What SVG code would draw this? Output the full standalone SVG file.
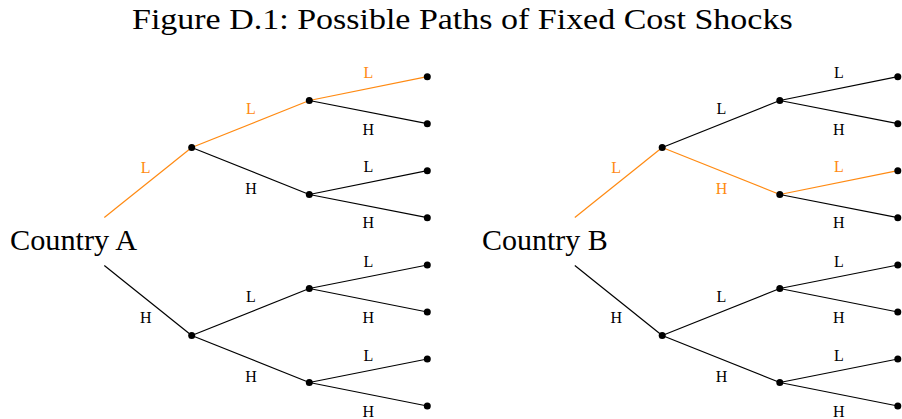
<svg xmlns="http://www.w3.org/2000/svg" width="902" height="419" viewBox="0 0 902 419">
<style>
.t{font-size:29px}
.lb{font-size:16px;text-anchor:middle}
.o{fill:#FF8A12}
.e{stroke:#000;stroke-width:1.2;fill:none}
.eo{stroke:#FF8A12;stroke-width:1.2;fill:none}
.d{fill:#000}
</style>
<rect width="902" height="419" fill="#fff"/>
<text class="t" font-family="Liberation Serif" transform="translate(132 28.5) scale(1.172 1)">Figure D.1: Possible Paths of Fixed Cost Shocks</text>

<g id="treeA">
<g id="connectorsA">
<line class="eo" x1="104.3" y1="217.5" x2="191.7" y2="147.5"/>
<line class="e" x1="104.3" y1="265.5" x2="191.7" y2="335.5"/>
<line class="eo" x1="191.7" y1="147.5" x2="309.3" y2="100.5"/>
<line class="e" x1="191.7" y1="147.5" x2="309.3" y2="194.5"/>
<line class="e" x1="191.7" y1="335.5" x2="309.3" y2="288.5"/>
<line class="e" x1="191.7" y1="335.5" x2="309.3" y2="382.5"/>
<line class="eo" x1="309.3" y1="100.5" x2="427.3" y2="76.7"/>
<line class="e" x1="309.3" y1="100.5" x2="427.3" y2="123.7"/>
<line class="e" x1="309.3" y1="194.5" x2="427.3" y2="170.7"/>
<line class="e" x1="309.3" y1="194.5" x2="427.3" y2="217.7"/>
<line class="e" x1="309.3" y1="288.5" x2="427.3" y2="265"/>
<line class="e" x1="309.3" y1="288.5" x2="427.3" y2="312"/>
<line class="e" x1="309.3" y1="382.5" x2="427.3" y2="359"/>
<line class="e" x1="309.3" y1="382.5" x2="427.3" y2="406"/>
</g>
<g id="rootA"><text class="t" font-family="Liberation Serif" x="10" y="249.5" textLength="127" lengthAdjust="spacingAndGlyphs">Country A</text></g>
<g id="nodesA">
<circle class="d" cx="191.7" cy="147.5" r="3.5"/>
<circle class="d" cx="191.7" cy="335.5" r="3.5"/>
<circle class="d" cx="309.3" cy="100.5" r="3.5"/>
<circle class="d" cx="309.3" cy="194.5" r="3.5"/>
<circle class="d" cx="309.3" cy="288.5" r="3.5"/>
<circle class="d" cx="309.3" cy="382.5" r="3.5"/>
<circle class="d" cx="427.3" cy="76.7" r="3.5"/>
<circle class="d" cx="427.3" cy="123.7" r="3.5"/>
<circle class="d" cx="427.3" cy="170.7" r="3.5"/>
<circle class="d" cx="427.3" cy="217.7" r="3.5"/>
<circle class="d" cx="427.3" cy="265" r="3.5"/>
<circle class="d" cx="427.3" cy="312" r="3.5"/>
<circle class="d" cx="427.3" cy="359" r="3.5"/>
<circle class="d" cx="427.3" cy="406" r="3.5"/>
</g>
<g id="labelsA">
<text class="lb o" font-family="Liberation Serif" x="145.7" y="172.5">L</text>
<text class="lb" font-family="Liberation Serif" x="145.7" y="322.5">H</text>
<text class="lb o" font-family="Liberation Serif" x="251" y="113.5">L</text>
<text class="lb" font-family="Liberation Serif" x="251" y="193.5">H</text>
<text class="lb" font-family="Liberation Serif" x="251" y="301.5">L</text>
<text class="lb" font-family="Liberation Serif" x="251" y="381.5">H</text>
<text class="lb o" font-family="Liberation Serif" x="368.3" y="78">L</text>
<text class="lb" font-family="Liberation Serif" x="368.3" y="134.5">H</text>
<text class="lb" font-family="Liberation Serif" x="368.3" y="172">L</text>
<text class="lb" font-family="Liberation Serif" x="368.3" y="228">H</text>
<text class="lb" font-family="Liberation Serif" x="368.3" y="267">L</text>
<text class="lb" font-family="Liberation Serif" x="368.3" y="323">H</text>
<text class="lb" font-family="Liberation Serif" x="368.3" y="361">L</text>
<text class="lb" font-family="Liberation Serif" x="368.3" y="417">H</text>
</g>
</g>

<g id="treeB" transform="translate(470.5 0)">
<g id="connectorsB">
<line class="eo" x1="104.3" y1="217.5" x2="191.7" y2="147.5"/>
<line class="e" x1="104.3" y1="265.5" x2="191.7" y2="335.5"/>
<line class="e" x1="191.7" y1="147.5" x2="309.3" y2="100.5"/>
<line class="eo" x1="191.7" y1="147.5" x2="309.3" y2="194.5"/>
<line class="e" x1="191.7" y1="335.5" x2="309.3" y2="288.5"/>
<line class="e" x1="191.7" y1="335.5" x2="309.3" y2="382.5"/>
<line class="e" x1="309.3" y1="100.5" x2="427.3" y2="76.7"/>
<line class="e" x1="309.3" y1="100.5" x2="427.3" y2="123.7"/>
<line class="eo" x1="309.3" y1="194.5" x2="427.3" y2="170.7"/>
<line class="e" x1="309.3" y1="194.5" x2="427.3" y2="217.7"/>
<line class="e" x1="309.3" y1="288.5" x2="427.3" y2="265"/>
<line class="e" x1="309.3" y1="288.5" x2="427.3" y2="312"/>
<line class="e" x1="309.3" y1="382.5" x2="427.3" y2="359"/>
<line class="e" x1="309.3" y1="382.5" x2="427.3" y2="406"/>
</g>
<g id="rootB"><text class="t" font-family="Liberation Serif" transform="translate(11.5 249.5) scale(1.035 1)">Country B</text></g>
<g id="nodesB">
<circle class="d" cx="191.7" cy="147.5" r="3.5"/>
<circle class="d" cx="191.7" cy="335.5" r="3.5"/>
<circle class="d" cx="309.3" cy="100.5" r="3.5"/>
<circle class="d" cx="309.3" cy="194.5" r="3.5"/>
<circle class="d" cx="309.3" cy="288.5" r="3.5"/>
<circle class="d" cx="309.3" cy="382.5" r="3.5"/>
<circle class="d" cx="427.3" cy="76.7" r="3.5"/>
<circle class="d" cx="427.3" cy="123.7" r="3.5"/>
<circle class="d" cx="427.3" cy="170.7" r="3.5"/>
<circle class="d" cx="427.3" cy="217.7" r="3.5"/>
<circle class="d" cx="427.3" cy="265" r="3.5"/>
<circle class="d" cx="427.3" cy="312" r="3.5"/>
<circle class="d" cx="427.3" cy="359" r="3.5"/>
<circle class="d" cx="427.3" cy="406" r="3.5"/>
</g>
<g id="labelsB">
<text class="lb o" font-family="Liberation Serif" x="145.7" y="172.5">L</text>
<text class="lb" font-family="Liberation Serif" x="145.7" y="322.5">H</text>
<text class="lb" font-family="Liberation Serif" x="251" y="113.5">L</text>
<text class="lb o" font-family="Liberation Serif" x="251" y="193.5">H</text>
<text class="lb" font-family="Liberation Serif" x="251" y="301.5">L</text>
<text class="lb" font-family="Liberation Serif" x="251" y="381.5">H</text>
<text class="lb" font-family="Liberation Serif" x="368.3" y="78">L</text>
<text class="lb" font-family="Liberation Serif" x="368.3" y="134.5">H</text>
<text class="lb o" font-family="Liberation Serif" x="368.3" y="172">L</text>
<text class="lb" font-family="Liberation Serif" x="368.3" y="228">H</text>
<text class="lb" font-family="Liberation Serif" x="368.3" y="267">L</text>
<text class="lb" font-family="Liberation Serif" x="368.3" y="323">H</text>
<text class="lb" font-family="Liberation Serif" x="368.3" y="361">L</text>
<text class="lb" font-family="Liberation Serif" x="368.3" y="417">H</text>
</g>
</g>
</svg>
